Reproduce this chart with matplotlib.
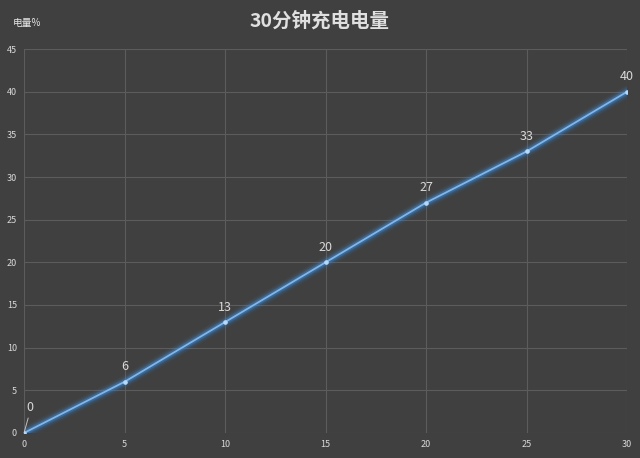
import matplotlib
matplotlib.use("Agg")
import matplotlib.pyplot as plt

plt.rcParams['font.family'] = ['Noto Sans CJK SC', 'DejaVu Sans']

minutes = [0, 5, 10, 15, 20, 25, 30]
charge = [0, 6, 13, 20, 27, 33, 40]
xticks = [0, 5, 10, 15, 20, 25, 30]
yticks = [0, 5, 10, 15, 20, 25, 30, 35, 40, 45]

bg = '#404040'
fig = plt.figure(figsize=(6.4, 4.58), dpi=100, facecolor=bg)
ax = fig.add_axes([0.0375, 0.0546, 0.9425, 0.8384], facecolor=bg)

for lw, a in [(9, 0.06), (7, 0.10), (5, 0.18), (3.5, 0.33)]:
    ax.plot(minutes, charge, color='#3d8fe0', lw=lw, alpha=a, solid_capstyle='round', zorder=3)
ax.plot(minutes, charge, color='#80b6ea', lw=1.3, zorder=4)
ax.plot(minutes, charge, 'o', color='#b8d8f8', ms=2.3, zorder=5)

for x, y in zip(minutes, charge):
    if x == 0:
        ax.annotate(str(y), xy=(x, y), xytext=(0.3, 3.0), ha='center', va='center',
                    color='#d9d9d9', fontsize=9,
                    arrowprops=dict(arrowstyle='-', color='#c0c0c0', lw=0.7, shrinkA=1, shrinkB=0,
                                    relpos=(0.4, 0.0)))
    else:
        ax.annotate(str(y), xy=(x, y), xytext=(0, 6), textcoords='offset points',
                    ha='center', va='bottom', color='#d9d9d9', fontsize=9)

ax.set_xlim(0, 30)
ax.set_ylim(0, 45)
ax.set_xticks(xticks)
ax.set_yticks(yticks)
ax.grid(True, color='#5c5c5c', lw=0.8)
ax.set_axisbelow(True)
for s in ax.spines.values():
    s.set_visible(False)
ax.tick_params(length=0, colors='#d9d9d9', labelsize=6.5, pad=5)

fig.text(0.5, 0.955, '30分钟充电电量', ha='center', va='center', color='#e0e0e0',
         fontsize=14, fontweight='bold')
fig.text(0.02, 0.950, '电量%', ha='left', va='center', color='#e8e8e8', fontsize=7)

fig.savefig('out.png', dpi=100, facecolor=bg)
